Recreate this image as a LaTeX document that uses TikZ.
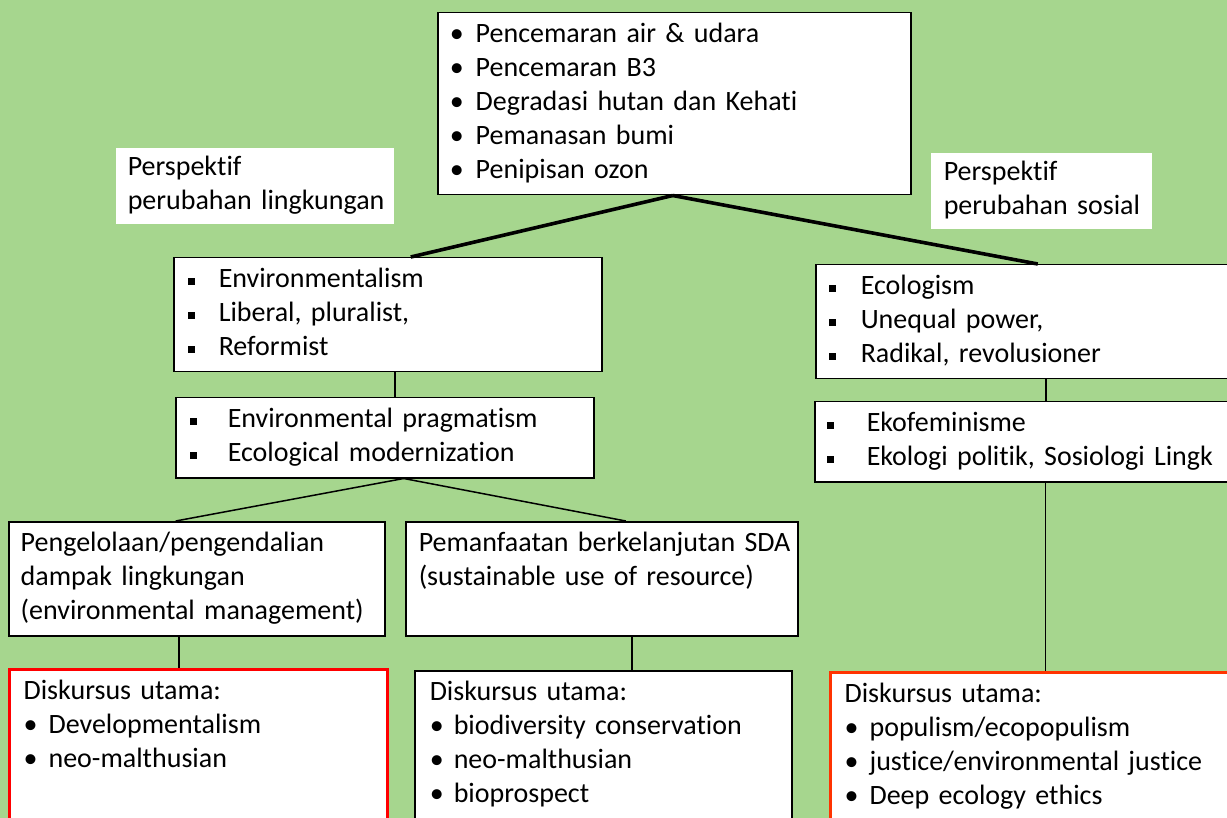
\documentclass[tikz,border=0pt]{standalone}
\usepackage{fontspec}
\setmainfont{Carlito}[Ligatures=CommonOff]
\usepackage{tikz}
\usetikzlibrary{positioning}

\definecolor{bggreen}{RGB}{166,214,142}
\definecolor{boxred}{RGB}{255,0,0}
\definecolor{boxorange}{RGB}{255,51,0}

% one line of text, bullet lines
\newcommand{\txtline}[1]{\mbox{\strut#1}}
\newcommand{\dotitem}[2]{\mbox{\strut\makebox[#1][l]{\textbullet}#2}}
\newcommand{\sqitem}[2]{\mbox{\strut\makebox[#1][l]{\rule[1.4pt]{3.6pt}{3.6pt}}#2}}

\begin{document}
\begin{tikzpicture}[
  x=0.5pt, y=-0.5pt,
  box/.style={rectangle, draw, fill=white, line width=0.75pt, anchor=north west,
    align=left, inner ysep=3pt, font=\fontsize{14}{17}\selectfont},
  tag/.style={box, draw=none, inner ysep=2pt},
  redbox/.style={box, draw=boxred, line width=1.6pt},
  orangebox/.style={box, draw=boxorange, line width=1.6pt},
  thickline/.style={line width=1.8pt},
  thinline/.style={line width=0.75pt}
]
  \fill[bggreen] (0,0) rectangle (1227,818);
  \useasboundingbox (0,0) rectangle (1227,818);

  % top: problems
  \node[box, inner xsep=6pt, text width=224.5pt] (issues) at (437,12)
    {\dotitem{13pt}{Pencemaran air \& udara}\\
     \dotitem{13pt}{Pencemaran B3}\\
     \dotitem{13pt}{Degradasi hutan dan Kehati}\\
     \dotitem{13pt}{Pemanasan bumi}\\
     \dotitem{13pt}{Penipisan ozon}};

  \node[tag, inner xsep=6pt, text width=127pt] (tagenv) at (115,147)
    {\txtline{Perspektif}\\\txtline{perubahan lingkungan}};
  \node[tag, inner xsep=6.5pt, text width=97.5pt] (tagsoc) at (930,152)
    {\txtline{Perspektif}\\\txtline{perubahan sosial}};

  % left branch
  \node[box, inner xsep=7.25pt, text width=199.5pt] (envism) at (173,257)
    {\sqitem{15.25pt}{Environmentalism}\\
     \sqitem{15.25pt}{Liberal, pluralist,}\\
     \sqitem{15.25pt}{Reformist}};
  \node[box, inner xsep=7.25pt, text width=194.5pt] (pragma) at (175,397)
    {\sqitem{18.75pt}{Environmental pragmatism}\\
     \sqitem{18.75pt}{Ecological modernization}};
  \node[box, inner xsep=6pt, text width=176pt] (manage) at (8,521)
    {\txtline{Pengelolaan/pengendalian}\\
     \txtline{dampak lingkungan}\\
     \txtline{(environmental management)}};
  \node[box, inner xsep=6.5pt, text width=183pt] (sustain) at (405,521)
    {\txtline{Pemanfaatan berkelanjutan SDA}\\
     \txtline{(sustainable use of resource)}\\
     \strut};
  \node[redbox, inner xsep=7pt, text width=175pt] (disc1) at (8,668)
    {\txtline{Diskursus utama:}\\
     \dotitem{12.5pt}{Developmentalism}\\
     \dotitem{12.5pt}{neo-malthusian}\\
     \strut\\\strut};
  \node[box, inner xsep=7.5pt, text width=173.5pt] (disc2) at (414,670)
    {\txtline{Diskursus utama:}\\
     \dotitem{12pt}{biodiversity conservation}\\
     \dotitem{12pt}{neo-malthusian}\\
     \dotitem{12pt}{bioprospect}\\
     \strut};

  % right branch
  \node[box, inner xsep=6.75pt, text width=199pt] (ecol) at (815,264)
    {\sqitem{15.75pt}{Ecologism}\\
     \sqitem{15.75pt}{Unequal power,}\\
     \sqitem{15.75pt}{Radikal, revolusioner}};
  \node[box, inner xsep=6.25pt, text width=200.5pt] (ekofem) at (814,401)
    {\sqitem{19.75pt}{Ekofeminisme}\\
     \sqitem{19.75pt}{Ekologi politik, Sosiologi Lingk}};
  \node[orangebox, inner xsep=7pt, text width=191.5pt] (disc3) at (829,671)
    {\txtline{Diskursus utama:}\\
     \dotitem{12.5pt}{populism/ecopopulism}\\
     \dotitem{12.5pt}{justice/environmental justice}\\
     \dotitem{12.5pt}{Deep ecology ethics}\\
     \strut};

  % connectors
  \draw[thickline] ([xshift=-0.75pt]issues.south) -- ([xshift=11.5pt]envism.north);
  \draw[thickline] ([xshift=-0.75pt]issues.south) -- ([xshift=4.75pt]ecol.north);
  \draw[thinline] ([xshift=3.5pt]envism.south) -- ([xshift=3.5pt]envism.south |- pragma.north);
  \draw[thinline] ([xshift=9.5pt]pragma.south) -- ([xshift=-10.5pt]manage.north);
  \draw[thinline] ([xshift=9.5pt]pragma.south) -- ([xshift=12pt]sustain.north);
  \draw[thinline] ([xshift=-9pt]manage.south) -- ([xshift=-9pt]manage.south |- disc1.north);
  \draw[thinline] ([xshift=15pt]sustain.south) -- ([xshift=15pt]sustain.south |- disc2.north);
  \draw[thinline] ([xshift=8.75pt]ecol.south) -- ([xshift=8.75pt]ecol.south |- ekofem.north);
  \draw[thinline] ([xshift=8.75pt]ekofem.south) -- ([xshift=8.75pt]ekofem.south |- disc3.north);
\end{tikzpicture}
\end{document}
